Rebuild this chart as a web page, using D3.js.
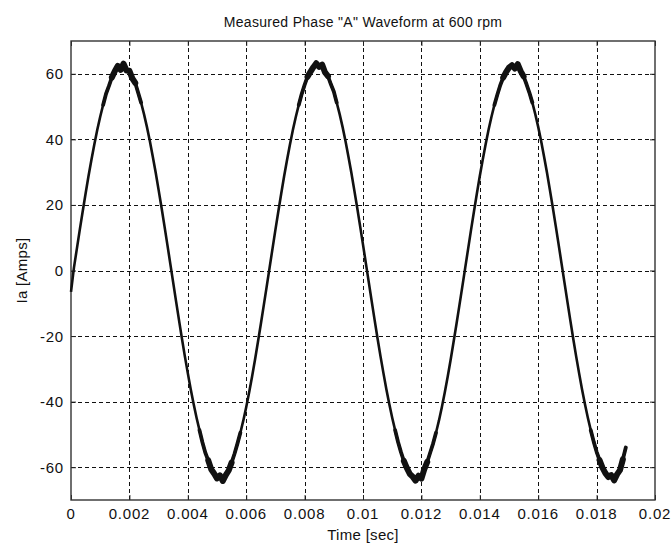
<!DOCTYPE html>
<html>
<head>
<meta charset="utf-8">
<script src="https://cdn.jsdelivr.net/npm/d3@7"></script>
<style>
  html, body { margin: 0; padding: 0; background: #fff; }
  svg { display: block; }
  text { font-family: "Liberation Sans", Arial, sans-serif; fill: #111; }
</style>
</head>
<body>
<svg id="chart" width="672" height="547"></svg>
<script>
// ---------------- data ----------------
const chartTitle = 'Measured Phase "A" Waveform at 600 rpm';
const xLabel = "Time [sec]";
const yLabel = "Ia [Amps]";
const xTicks = [0, 0.002, 0.004, 0.006, 0.008, 0.01, 0.012, 0.014, 0.016, 0.018, 0.02];
const xTickLabels = ["0", "0.002", "0.004", "0.006", "0.008", "0.01", "0.012", "0.014", "0.016", "0.018", "0.02"];
const yTicks = [-60, -40, -20, 0, 20, 40, 60];
const yTickLabels = ["-60", "-40", "-20", "0", "20", "40", "60"];
const xDomain = [0, 0.02];
const yDomain = [-70, 70];
const sampleInterval = 0.0001; // seconds between samples
// measured phase current Ia (A), one value per sample starting at t = 0
const currentA = [
  -6.5, 0.8, 6.6, 12.4, 18.0, 23.5, 28.8, 33.8, 38.5, 42.9, 46.9, 50.5, 53.9, 56.3, 58.9, 60.8, 62.4, 61.2, 63.1, 61.0, 60.9, 58.6, 57.2, 54.2, 51.2, 47.7, 43.8, 39.5, 34.8, 29.9, 24.6, 19.2, 13.6, 7.9, 2.1, -3.7, -9.5, -15.2, -20.8, -26.2, -31.3, -36.2, -40.7, -44.9, -48.7, -52.4, -55.6, -57.9, -60.6, -61.9, -63.4, -62.5, -64.2, -62.4, -61.0, -58.6, -55.9, -52.8, -49.5, -45.8, -41.7, -37.2, -32.4, -27.3, -21.9, -16.4, -10.7,
  -5.0, 0.8, 6.6, 12.4, 18.0, 23.5, 28.8, 33.8, 38.5, 42.9, 46.9, 50.5, 53.8, 56.6, 59.1, 60.6, 62.0, 63.2, 62.1, 62.8, 60.4, 59.3, 56.8, 54.6, 51.2, 47.7, 43.8, 39.5, 34.8, 29.9, 24.6, 19.2, 13.6, 7.9, 2.1, -3.7, -9.5, -15.2, -20.8, -26.2, -31.3, -36.2, -40.7, -44.9, -48.7, -52.3, -55.4, -58.1, -60.2, -62.0, -62.9, -64.1, -62.6, -63.5, -60.6, -58.4, -55.6, -52.8, -49.5, -45.8, -41.7, -37.2, -32.4, -27.3, -21.9, -16.4, -10.7,
  -5.0, 0.8, 6.6, 12.4, 18.0, 23.5, 28.8, 33.8, 38.5, 42.9, 46.9, 50.5, 53.6, 56.5, 58.8, 60.5, 61.9, 62.6, 61.6, 62.9, 60.8, 59.2, 56.8, 54.2, 51.2, 47.7, 43.8, 39.5, 34.8, 29.9, 24.6, 19.2, 13.6, 7.9, 2.1, -3.7, -9.5, -15.2, -20.8, -26.2, -31.3, -36.2, -40.7, -44.9, -48.7, -52.2, -55.3, -57.8, -60.1, -61.8, -63.0, -62.4, -64.0, -62.2, -60.9, -57.6, -54.0
];

// ---------------- layout ----------------
const margin = { left: 71, right: 672 - 655, top: 41, bottom: 547 - 500 };
const W = 672, H = 547;
const svg = d3.select("#chart");
const x = d3.scaleLinear().domain(xDomain).range([margin.left, W - margin.right]);
const y = d3.scaleLinear().domain(yDomain).range([H - margin.bottom, margin.top]);

const data = currentA.map((v, i) => ({ t: i * sampleInterval, v }));

// grid
const grid = svg.append("g").attr("stroke", "#111").attr("stroke-width", 1)
  .attr("stroke-dasharray", "4,3");
grid.selectAll("line.vx").data(xTicks.slice(1, -1)).join("line")
  .attr("x1", d => Math.round(x(d)) + 0.5).attr("x2", d => Math.round(x(d)) + 0.5)
  .attr("y1", y(yDomain[1])).attr("y2", y(yDomain[0]));
grid.selectAll("line.hy").data(yTicks).join("line")
  .attr("y1", d => Math.round(y(d)) + 0.5).attr("y2", d => Math.round(y(d)) + 0.5)
  .attr("x1", x(xDomain[0])).attr("x2", x(xDomain[1]));

// axes (ticks inward, MATLAB style)
const xAxisB = d3.axisBottom(x).tickValues(xTicks).tickSize(-5).tickFormat(() => "");
const xAxisT = d3.axisTop(x).tickValues(xTicks).tickSize(-5).tickFormat(() => "");
const yAxisL = d3.axisLeft(y).tickValues(yTicks).tickSize(-5).tickFormat(() => "");
const yAxisR = d3.axisRight(y).tickValues(yTicks).tickSize(-5).tickFormat(() => "");
[[xAxisB, `translate(0,${y(yDomain[0])})`], [xAxisT, `translate(0,${y(yDomain[1])})`],
 [yAxisL, `translate(${x(xDomain[0])},0)`], [yAxisR, `translate(${x(xDomain[1])},0)`]].forEach(([ax, tr]) => {
  const g = svg.append("g").attr("transform", tr).call(ax);
  g.select(".domain").remove();
  g.selectAll("line").attr("stroke", "#222");
});

// frame
svg.append("rect")
  .attr("x", x(xDomain[0])).attr("y", y(yDomain[1]))
  .attr("width", x(xDomain[1]) - x(xDomain[0]))
  .attr("height", y(yDomain[0]) - y(yDomain[1]))
  .attr("fill", "none").attr("stroke", "#333").attr("stroke-width", 1.4);

// tick labels
svg.append("g").selectAll("text").data(xTicks).join("text")
  .attr("x", d => x(d)).attr("y", 519)
  .attr("text-anchor", "middle")
  .style("font-size", "15px").style("letter-spacing", "0.8px")
  .text((d, i) => xTickLabels[i]);
svg.append("g").selectAll("text").data(yTicks).join("text")
  .attr("x", 64).attr("y", d => y(d) + 5.5)
  .attr("text-anchor", "end")
  .style("font-size", "15px").style("letter-spacing", "0.8px")
  .text((d, i) => yTickLabels[i]);

// titles
svg.append("text").attr("x", (x(xDomain[0]) + x(xDomain[1])) / 2).attr("y", 27)
  .attr("text-anchor", "middle").style("font-size", "14px").style("letter-spacing", "0.3px")
  .text(chartTitle);
svg.append("text").attr("x", (x(xDomain[0]) + x(xDomain[1])) / 2).attr("y", 540)
  .attr("text-anchor", "middle").style("font-size", "15px").style("letter-spacing", "0.3px")
  .text(xLabel);
svg.append("text").attr("transform", `translate(27,${(y(yDomain[0]) + y(yDomain[1])) / 2}) rotate(-90)`)
  .attr("text-anchor", "middle").style("font-size", "15px").style("letter-spacing", "0.3px")
  .text(yLabel);

// waveform
const line = d3.line().x(d => x(d.t)).y(d => y(d.v));
svg.append("path").datum(data)
  .attr("d", line).attr("fill", "none").attr("stroke", "#111")
  .attr("stroke-width", 2.6).attr("stroke-linejoin", "round");
// denser noise band near the peaks (two levels, widening toward the crest)
[[48, 3.8], [57, 6]].forEach(([thr, w]) => {
  const peakLine = d3.line().defined(d => Math.abs(d.v) > thr).x(d => x(d.t)).y(d => y(d.v));
  svg.append("path").datum(data)
    .attr("d", peakLine).attr("fill", "none").attr("stroke", "#111")
    .attr("stroke-width", w).attr("stroke-linejoin", "round").attr("stroke-linecap", "round");
});
</script>
</body>
</html>
